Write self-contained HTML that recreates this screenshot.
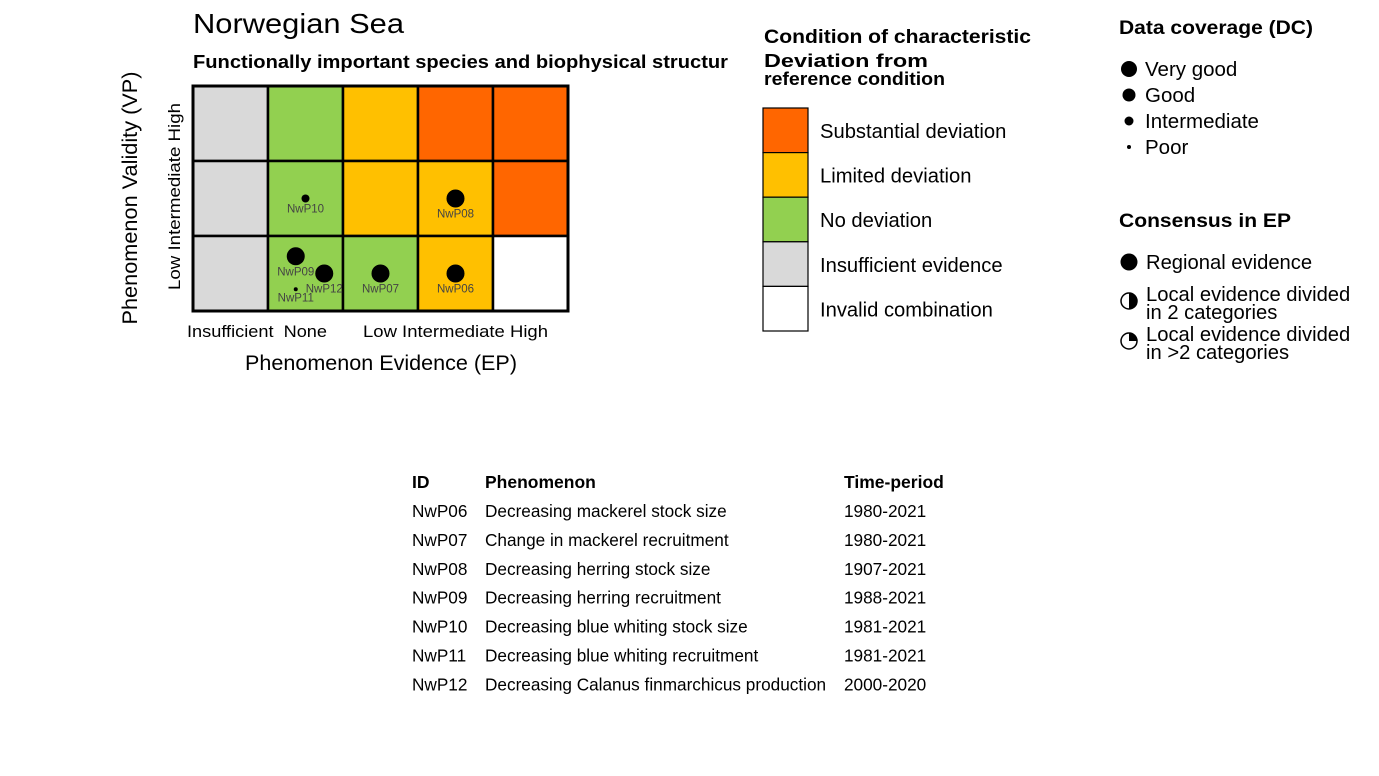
<!DOCTYPE html>
<html><head><meta charset="utf-8"><style>
html,body{margin:0;padding:0;background:#fff;}
svg{display:block;font-family:"Liberation Sans",Arial,sans-serif;}
</style></head><body>
<svg id="chart" width="1379" height="776" viewBox="0 0 1379 776" xmlns="http://www.w3.org/2000/svg">
<text x="193" y="33" font-size="28" textLength="211" lengthAdjust="spacingAndGlyphs">Norwegian Sea</text>
<text x="193" y="68" font-size="18" font-weight="bold" textLength="535" lengthAdjust="spacingAndGlyphs">Functionally important species and biophysical structur</text>
<g id="grid"></g>
<g id="points"></g>
<text transform="translate(137,198) rotate(-90)" text-anchor="middle" font-size="21" textLength="253" lengthAdjust="spacingAndGlyphs">Phenomenon Validity (VP)</text>
<text transform="translate(180,290) rotate(-90)" font-size="17" textLength="187" lengthAdjust="spacingAndGlyphs">Low Intermediate High</text>
<text x="187" y="337" font-size="17" textLength="140" lengthAdjust="spacingAndGlyphs">Insufficient&#160;&#160;None</text>
<text x="363" y="337" font-size="17" textLength="185" lengthAdjust="spacingAndGlyphs">Low Intermediate High</text>
<text x="245" y="370" font-size="21" textLength="272" lengthAdjust="spacingAndGlyphs">Phenomenon Evidence (EP)</text>

<text x="764" y="43" font-size="19" font-weight="bold" textLength="267" lengthAdjust="spacingAndGlyphs">Condition of characteristic</text>
<text x="764" y="67" font-size="18" font-weight="bold" textLength="164" lengthAdjust="spacingAndGlyphs">Deviation from</text>
<text x="764" y="85" font-size="18" font-weight="bold" textLength="181" lengthAdjust="spacingAndGlyphs">reference condition</text>
<g id="condLegend"></g>

<text x="1119" y="34" font-size="19" font-weight="bold" textLength="194" lengthAdjust="spacingAndGlyphs">Data coverage (DC)</text>
<g font-size="20.5">
<circle cx="1129" cy="69" r="8"/><text x="1145" y="76">Very good</text>
<circle cx="1129" cy="95" r="6.5"/><text x="1145" y="102">Good</text>
<circle cx="1129" cy="121" r="4.5"/><text x="1145" y="128">Intermediate</text>
<circle cx="1129" cy="147" r="2"/><text x="1145" y="154">Poor</text>
</g>
<text x="1119" y="227" font-size="19" font-weight="bold" textLength="172" lengthAdjust="spacingAndGlyphs">Consensus in EP</text>
<g font-size="20.2">
<circle cx="1129" cy="262" r="8.5"/><text x="1146" y="269">Regional evidence</text>
<circle cx="1129" cy="301" r="8" fill="#fff" stroke="#000" stroke-width="1.5"/><path d="M1129,293 A8,8 0 0 1 1129,309 Z" fill="#000"/>
<text x="1146" y="301">Local evidence divided</text><text x="1146" y="319">in 2 categories</text>
<circle cx="1129" cy="341" r="8" fill="#fff" stroke="#000" stroke-width="1.5"/><path d="M1129,341 L1129,333 A8,8 0 0 1 1137,341 Z" fill="#000"/>
<text x="1146" y="341">Local evidence divided</text><text x="1146" y="359">in &gt;2 categories</text>
</g>

<g id="table" font-size="17.2"></g>

<script>
const epLevels = ["Insufficient","None","Low","Intermediate","High"];
const vpLevels = ["Low","Intermediate","High"];
const cellColors = [
 ["#d9d9d9","#92d050","#ffc000","#ff6600","#ff6600"],
 ["#d9d9d9","#92d050","#ffc000","#ffc000","#ff6600"],
 ["#d9d9d9","#92d050","#92d050","#ffc000","#ffffff"]];
const ids = ["NwP06","NwP07","NwP08","NwP09","NwP10","NwP11","NwP12"];
const ep = [3,2,3,1,1,1,1];
const vp = [0,0,1,0,1,0,0];
const dcSize = [9,9,9,9,4,2,9];
const jitterX = [0,0,0,-0.13,0,-0.13,0.25];
const jitterY = [0,0,0,-0.23,0,0.21,0];
const phen = ["Decreasing mackerel stock size","Change in mackerel recruitment","Decreasing herring stock size","Decreasing herring recruitment","Decreasing blue whiting stock size","Decreasing blue whiting recruitment","Decreasing Calanus finmarchicus production"];
const periods = ["1980-2021","1980-2021","1907-2021","1988-2021","1981-2021","1981-2021","2000-2020"];
const legendLabels = ["Substantial deviation","Limited deviation","No deviation","Insufficient evidence","Invalid combination"];
const legendColors = ["#ff6600","#ffc000","#92d050","#d9d9d9","#ffffff"];

const NS="http://www.w3.org/2000/svg";
const X0=193, CW=75, Y0=86, CH=75;
const xS = c => X0 + CW*c + CW/2;
const yS = v => Y0 + CH*(2-v) + CH/2;
function mk(t,a,p){const e=document.createElementNS(NS,t);for(const k in a)e.setAttribute(k,a[k]);p.appendChild(e);return e;}

const grid=document.getElementById('grid');
cellColors.forEach((row,r)=>row.forEach((col,c)=>{
 const e=mk('rect',{x:X0+CW*c,y:Y0+CH*r,width:CW,height:CH,fill:col,stroke:"#000","stroke-width":2.5},grid);
 
 
}));
const border=mk('rect',{x:X0,y:Y0,width:CW*5,height:CH*3,fill:"none",stroke:"#000","stroke-width":3},grid);



const pts=document.getElementById('points');
ids.forEach((id,i)=>{
 const cx=xS(ep[i])+jitterX[i]*CW, cy=yS(vp[i])+jitterY[i]*CH;
 const c=mk('circle',{cx:cx,cy:cy,r:dcSize[i],fill:"#000"},pts);
 
 
 const t=mk('text',{x:cx,y:cy+dcSize[i]+10,"text-anchor":"middle","font-size":11.5,fill:"#444"},pts);
 t.textContent=id;
 
 
});

const cl=document.getElementById('condLegend');
legendLabels.forEach((l,i)=>{
 const r=mk('rect',{x:763,y:108+44.6*i,width:45,height:44.6,fill:legendColors[i],stroke:"#000","stroke-width":1.2},cl);
 
 
 const t=mk('text',{x:820,y:138+44.6*i,"font-size":20.2},cl);
 t.textContent=l;
 
 
});

const tb=document.getElementById('table');
[["ID",412],["Phenomenon",485],["Time-period",844]].forEach(([h,x])=>{
 const t=mk('text',{x:x,y:488,"font-weight":"bold","font-size":17.5},tb);t.textContent=h;
 
 
});
ids.forEach((id,i)=>{
 const y=517+28.9*i;
 [[id,412],[phen[i],485],[periods[i],844]].forEach(([s,x],j)=>{
  const t=mk('text',{x:x,y:y},tb);t.textContent=s;
  
  
 });
});
</script>
</svg>
</body></html>
